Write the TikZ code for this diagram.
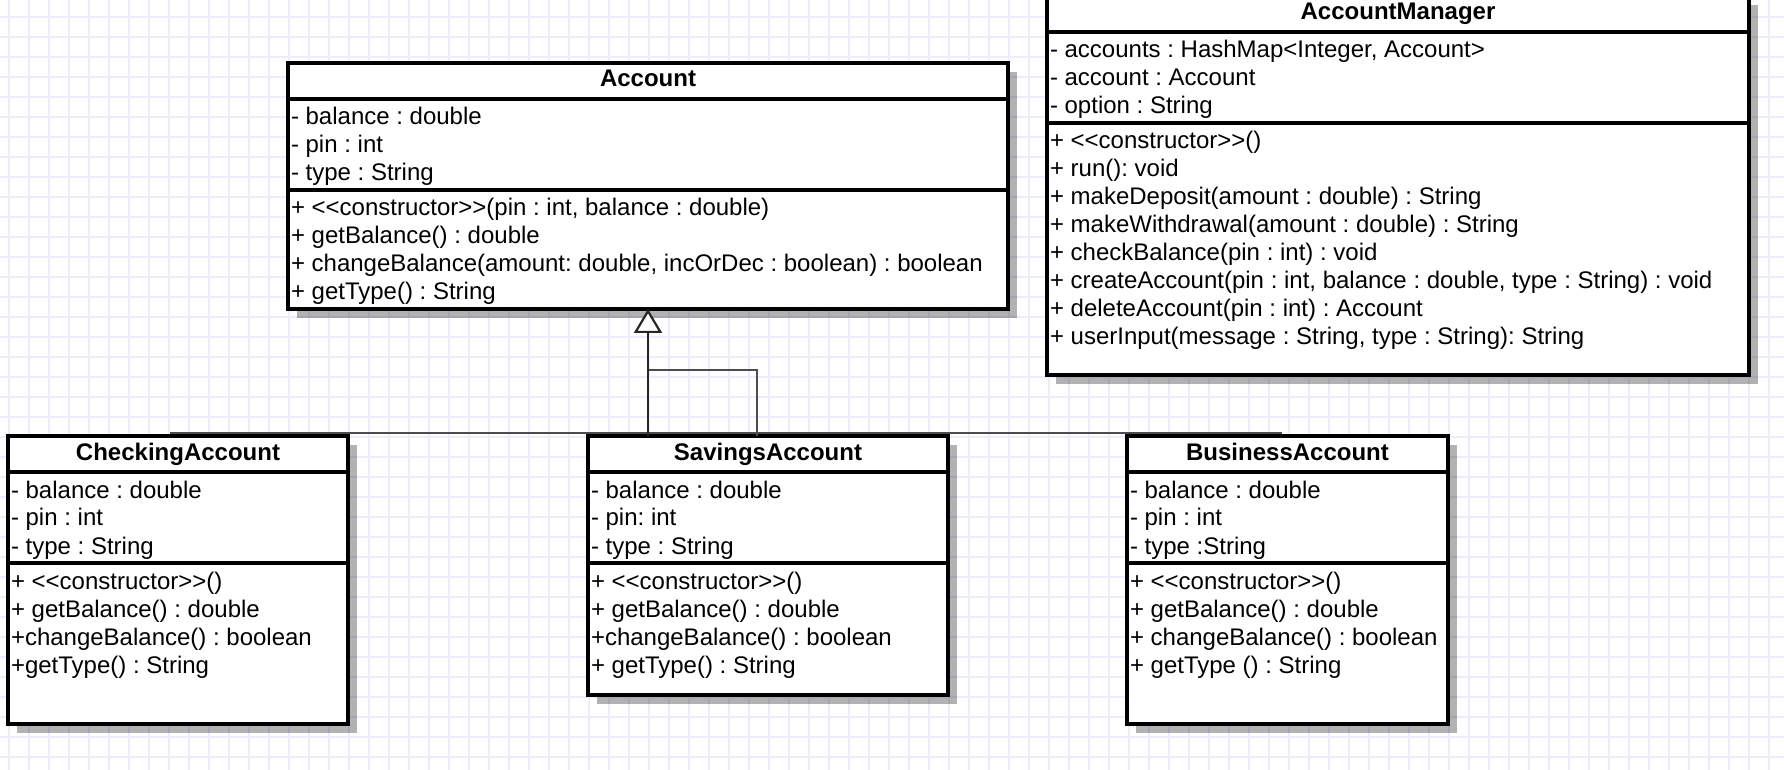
\documentclass[tikz,border=0pt]{standalone}
\usepackage{fontspec}
\setmainfont{Liberation Sans}
\usetikzlibrary{positioning, shadows, arrows.meta}
\frenchspacing

\definecolor{gridblue}{RGB}{238,236,252}
\newcommand{\umlfont}{\fontsize{12pt}{14pt}\selectfont}
\newcommand{\stereo}[1]{<{}<#1>{}>}
% one compartment: full width, height, lines
\newcommand{\compart}[3]{\parbox[c][#2][t]{\dimexpr#1-3pt\relax}{\raggedright\rule{0pt}{13pt}#3}}

\tikzset{
  umlbox/.style={draw=black, fill=white, line width=1.7pt, inner sep=0pt, outer sep=0pt, anchor=north,
    drop shadow={shadow xshift=4.5pt, shadow yshift=-4.5pt, fill=black, opacity=.3}},
  classname/.style={umlbox, font=\umlfont\bfseries, minimum width=#1, minimum height=18pt,
    text height=8.5pt, text depth=2.5pt},
  classpart/.style={umlbox, font=\umlfont, inner xsep=1.5pt},
  gridline/.style={draw=gridblue, line width=0.7pt},
  genline/.style={draw=black!85, line width=1.3pt,
    -{Triangle[length=12pt, width=14pt, fill=white, line width=1.1pt]}},
  tapline/.style={draw=black!70, line width=1.1pt},
}

\begin{document}
\begin{tikzpicture}[x=0.5pt, y=-0.5pt]
\useasboundingbox (0,0) rectangle (1784,770);
\fill[white] (0,0) rectangle (1784,770);
\foreach \gx in {9,29,...,1789} \draw[gridline] (\gx,0) -- (\gx,770);
\foreach \gy in {17,37,...,777} \draw[gridline] (0,\gy) -- (1784,\gy);

% Account
\node[classname=360pt] (acc) at (648,63) {Account};
\node[classpart, below=0pt of acc] (accA) {\compart{360pt}{45.5pt}{- balance : double\\- pin : int\\- type : String}};
\node[classpart, below=0pt of accA] (accM) {\compart{360pt}{59.5pt}{+ \stereo{constructor}(pin : int, balance : double)\\+ getBalance() : double\\+ changeBalance(amount: double, incOrDec : boolean) : boolean\\+ getType() : String}};

% AccountManager
\node[classname=351pt] (mgr) at (1398,-4) {AccountManager};
\node[classpart, below=0pt of mgr] (mgrA) {\compart{351pt}{45.5pt}{- accounts : HashMap<Integer, Account>\\- account : Account\\- option : String}};
\node[classpart, below=0pt of mgrA] (mgrM) {\compart{351pt}{126pt}{+ \stereo{constructor}()\\+ run(): void\\+ makeDeposit(amount : double) : String\\+ makeWithdrawal(amount : double) : String\\+ checkBalance(pin : int) : void\\+ createAccount(pin : int, balance : double, type : String) : void\\+ deleteAccount(pin : int) : Account\\+ userInput(message : String, type : String): String}};

% CheckingAccount
\node[classname=170pt] (chk) at (178,436) {CheckingAccount};
\node[classpart, below=0pt of chk] (chkA) {\compart{170pt}{45.5pt}{- balance : double\\- pin : int\\- type : String}};
\node[classpart, below=0pt of chkA] (chkM) {\compart{170pt}{80.5pt}{+ \stereo{constructor}()\\+ getBalance() : double\\+changeBalance() : boolean\\+getType() : String}};

% SavingsAccount
\node[classname=180pt] (sav) at (768,436) {SavingsAccount};
\node[classpart, below=0pt of sav] (savA) {\compart{180pt}{45.5pt}{- balance : double\\- pin: int\\- type : String}};
\node[classpart, below=0pt of savA] (savM) {\compart{180pt}{66pt}{+ \stereo{constructor}()\\+ getBalance() : double\\+changeBalance() : boolean\\+ getType() : String}};

% BusinessAccount
\node[classname=160.5pt] (bus) at (1287.5,436) {BusinessAccount};
\node[classpart, below=0pt of bus] (busA) {\compart{160.5pt}{45.5pt}{- balance : double\\- pin : int\\- type :String}};
\node[classpart, below=0pt of busA] (busM) {\compart{160.5pt}{80.5pt}{+ \stereo{constructor}()\\+ getBalance() : double\\+ changeBalance() : boolean\\+ getType () : String}};

% inheritance
\coordinate (split) at (648,370);
\coordinate (savtap) at (757,436);
\coordinate (chktap) at (170,433);
\coordinate (bustap) at (1282,433);
\draw[tapline] (chktap) -- (bustap);
\draw[tapline] (split) -| (savtap);
\draw[genline] (accM.south |- sav.north) -- (accM.south);
\end{tikzpicture}
\end{document}
